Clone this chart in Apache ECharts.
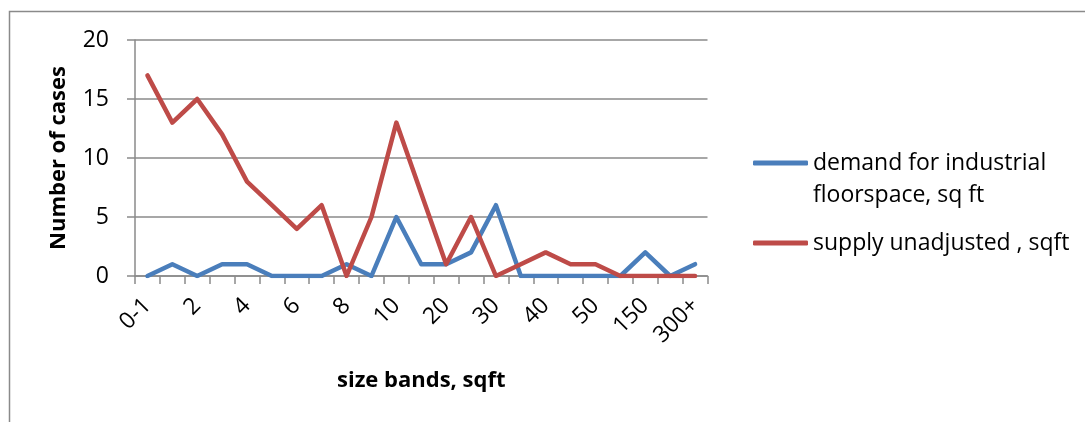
<!DOCTYPE html>
<html>
<head>
<meta charset="utf-8">
<script src="https://cdn.jsdelivr.net/npm/echarts@6/dist/echarts.min.js"></script>
<style>
  html, body { margin: 0; padding: 0; background: #ffffff; }
  #chart { width: 1085px; height: 422px; }
</style>
</head>
<body>
<div id="chart"></div>
<script>
// Size bands (every other label is shown on the axis)
const sizeBands = ['0-1', '1', '2', '3', '4', '5', '6', '7', '8', '9', '10', '15',
                   '20', '25', '30', '35', '40', '45', '50', '100', '150', '200', '300+'];

// Number of cases per size band
const demandCases = [0, 1, 0, 1, 1, 0, 0, 0, 1, 0, 5, 1, 1, 2, 6, 0, 0, 0, 0, 0, 2, 0, 1];
const supplyCases = [17, 13, 15, 12, 8, 6, 4, 6, 0, 5, 13, 7, 1, 5, 0, 1, 2, 1, 1, 0, 0, 0, 0];

const demandName = 'demand for industrial floorspace, sq ft';
const supplyName = 'supply unadjusted , sqft';

const yTicks = [0, 5, 10, 15, 20];

const FONT = 'Open Sans';
const GRID_COLOR = '#8a8a8a';
const LEGEND_LINE = 32;

const legendBase = {
  orient: 'vertical',
  left: 753,
  padding: 0,
  itemWidth: 55,
  itemHeight: 5,
  itemGap: 0,
  icon: 'roundRect',
  textStyle: {
    fontFamily: FONT,
    fontSize: 23,
    color: '#000000',
    lineHeight: LEGEND_LINE
  }
};

const chart = echarts.init(document.getElementById('chart'), null, { renderer: 'canvas' });

chart.setOption({
  backgroundColor: '#ffffff',
  animation: false,
  graphic: [{
    type: 'rect',
    shape: { x: 9.5, y: 11.5, width: 1200, height: 600 },
    style: { fill: 'none', stroke: GRID_COLOR, lineWidth: 1.5 },
    silent: true,
    z: -1
  }],
  grid: { left: 135, right: 377.5, top: 40, bottom: 146, containLabel: false },
  legend: [
    // first entry wraps onto two lines; the blank leading line keeps the
    // swatch level with "demand for industrial"
    Object.assign({}, legendBase, {
      top: 163 - LEGEND_LINE * 1.5,
      data: [demandName],
      formatter: function () {
        return '\ndemand for industrial\nfloorspace, sq ft';
      }
    }),
    Object.assign({}, legendBase, {
      top: 243 - LEGEND_LINE / 2,
      data: [supplyName]
    })
  ],
  xAxis: {
    type: 'category',
    data: sizeBands,
    boundaryGap: true,
    name: 'size bands, sqft',
    nameLocation: 'middle',
    nameGap: 94,
    nameTextStyle: { fontFamily: FONT, fontSize: 22, fontWeight: 'bold', color: '#000000' },
    axisLine: { lineStyle: { color: GRID_COLOR, width: 1.5 } },
    axisTick: { show: true, interval: 0, length: 8, lineStyle: { color: GRID_COLOR, width: 1.5 } },
    axisLabel: {
      interval: 1,
      rotate: 45,
      margin: 26,
      fontFamily: FONT,
      fontSize: 23,
      color: '#000000'
    },
    splitLine: { show: false }
  },
  yAxis: {
    type: 'value',
    min: yTicks[0],
    max: yTicks[yTicks.length - 1],
    interval: yTicks[1] - yTicks[0],
    name: 'Number of cases',
    nameLocation: 'middle',
    nameGap: 65,
    nameTextStyle: { fontFamily: FONT, fontSize: 22, fontWeight: 'bold', color: '#000000' },
    axisLine: { show: true, lineStyle: { color: GRID_COLOR, width: 1.5 } },
    axisTick: { show: true, length: 8, lineStyle: { color: GRID_COLOR, width: 1.5 } },
    axisLabel: { margin: 26, fontFamily: FONT, fontSize: 23, color: '#000000' },
    splitLine: { show: true, lineStyle: { color: GRID_COLOR, width: 1.5 } }
  },
  series: [
    {
      name: demandName,
      type: 'line',
      data: demandCases,
      showSymbol: false,
      symbol: 'none',
      color: '#4a7ebb',
      lineStyle: { width: 4.5, color: '#4a7ebb', cap: 'round', join: 'round' },
      z: 2
    },
    {
      name: supplyName,
      type: 'line',
      data: supplyCases,
      showSymbol: false,
      symbol: 'none',
      color: '#be4b48',
      lineStyle: { width: 4.5, color: '#be4b48', cap: 'round', join: 'round' },
      z: 3
    }
  ]
});
</script>
</body>
</html>
